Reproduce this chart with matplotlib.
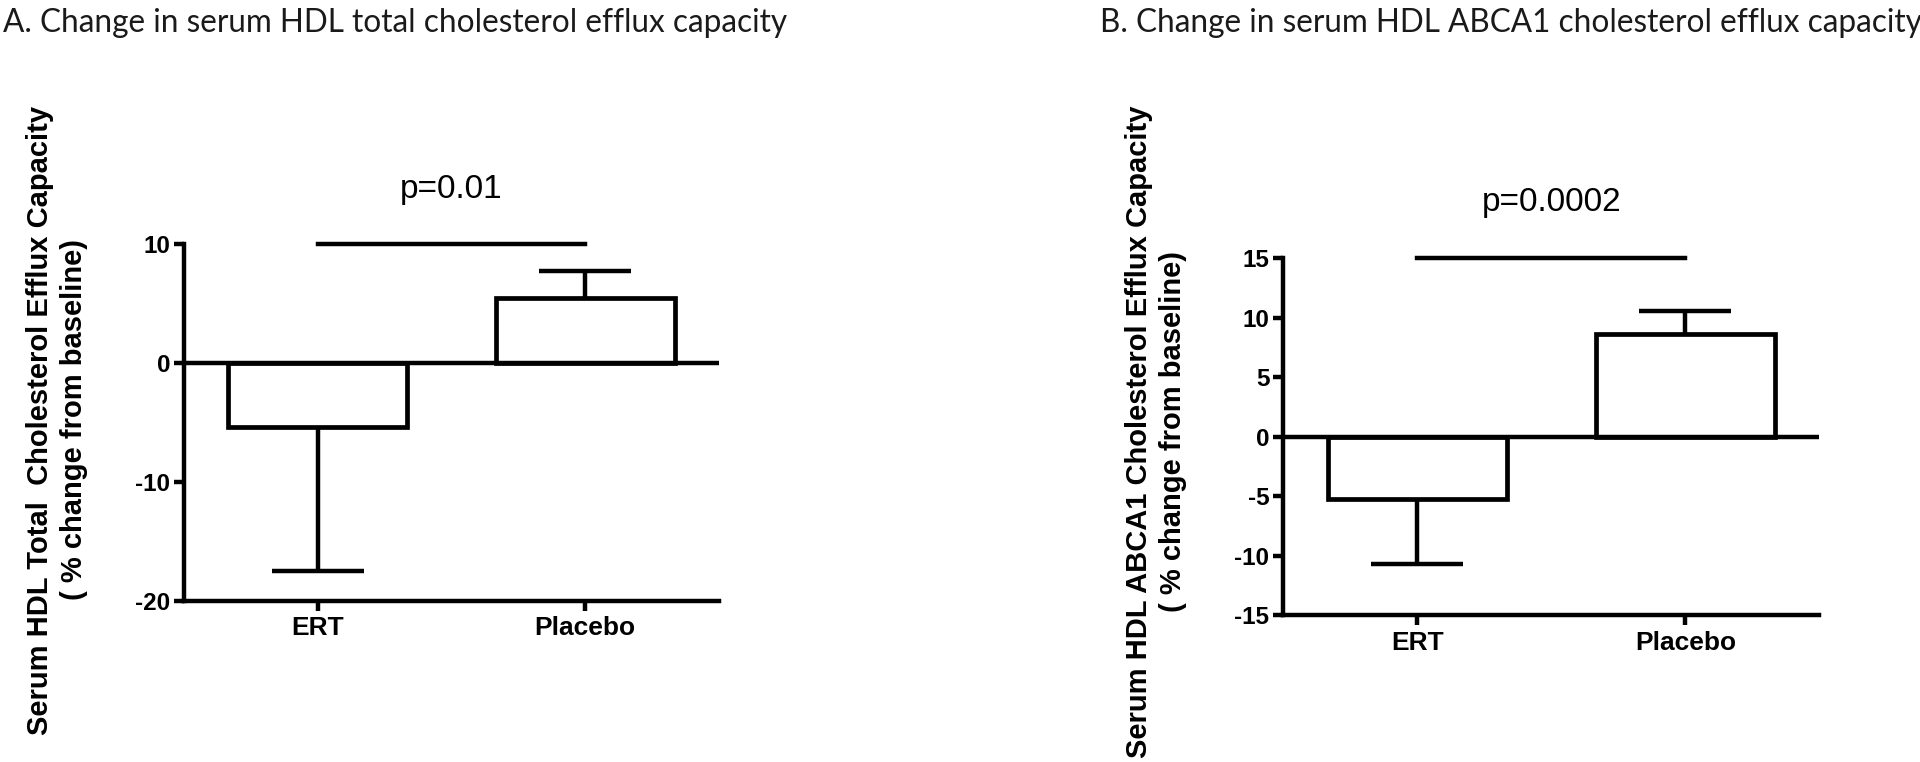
import numpy as np
import matplotlib
matplotlib.use("Agg")
import matplotlib.pyplot as plt

# data
groups = ["ERT", "Placebo"]

total_means = [-5.4, 5.45]
total_err = [12.1, 2.3]        # one sided, away from zero
total_ticks = [-20, -10, 0, 10]
total_p = "p=0.01"

abca1_means = [-5.25, 8.65]
abca1_err = [5.45, 1.9]
abca1_ticks = [-15, -10, -5, 0, 5, 10, 15]
abca1_p = "p=0.0002"

titles = ["A. Change in serum HDL total cholesterol efflux capacity",
          "B. Change in serum HDL ABCA1 cholesterol efflux capacity"]
ylabels = ["Serum HDL Total  Cholesterol Efflux Capacity\n( % change from baseline)",
           "Serum HDL ABCA1 Cholesterol Efflux Capacity\n( % change from baseline)"]

bold_font = ["Liberation Sans", "DejaVu Sans"]
title_font = ["Lato", "DejaVu Sans"]

fig = plt.figure(figsize=(19.2, 7.62), dpi=100)
fig.patch.set_facecolor("white")

LW = 3.2


def draw_panel(ax, means, errs, ticks, ptext):
    x = np.arange(len(means))
    ax.bar(x, means, width=0.67, color="white", edgecolor="black",
           linewidth=3.4, zorder=3)
    for xi, m, e in zip(x, means, errs):
        end = m - e if m < 0 else m + e
        ax.plot([xi, xi], [m, end], color="black", lw=LW, zorder=2,
                solid_capstyle="butt")
        ax.plot([xi - 0.172, xi + 0.172], [end, end], color="black", lw=LW,
                zorder=2, solid_capstyle="butt")
    ax.axhline(0, color="black", lw=LW, zorder=4)

    top = ticks[-1]
    ax.plot([0, 1], [top, top], color="black", lw=LW, clip_on=False)
    span = ticks[-1] - ticks[0]
    ax.text(0.5, top + span * 0.155, ptext, ha="center", va="center",
            fontsize=24, family=bold_font)

    ax.set_xlim(-0.5, 1.5)
    ax.set_ylim(ticks[0], ticks[-1])
    ax.set_yticks(ticks)
    ax.set_yticklabels([str(t) for t in ticks], fontsize=17.5,
                       fontweight="bold", family=bold_font)
    ax.set_xticks(x)
    ax.set_xticklabels(groups, fontsize=19, fontweight="bold",
                       family=bold_font)
    ax.tick_params(axis="both", width=LW, length=7, pad=3)
    ax.tick_params(axis="x", pad=4)
    for side in ["top", "right"]:
        ax.spines[side].set_visible(False)
    for side in ["left", "bottom"]:
        ax.spines[side].set_linewidth(LW)


ax1 = fig.add_axes([0.0958, 0.2113, 0.2786, 0.4681])
draw_panel(ax1, total_means, total_err, total_ticks, total_p)

ax2 = fig.add_axes([0.6684, 0.1923, 0.2792, 0.4688])
draw_panel(ax2, abca1_means, abca1_err, abca1_ticks, abca1_p)

# panel titles
fig.text(3 / 1920, 1 - 23 / 762, titles[0], ha="left", va="center",
         fontsize=22.7, family=title_font, color="#1a1a1a")
fig.text(1100 / 1920, 1 - 23 / 762, titles[1], ha="left", va="center",
         fontsize=22.7, family=title_font, color="#1a1a1a")

# y labels
fig.text(57 / 1920, 1 - 420 / 762, ylabels[0], rotation=90, ha="center",
         va="center", multialignment="center", fontsize=21,
         fontweight="bold", family=bold_font, linespacing=1.3)
fig.text(1156 / 1920, 1 - 432 / 762, ylabels[1], rotation=90, ha="center",
         va="center", multialignment="center", fontsize=21,
         fontweight="bold", family=bold_font, linespacing=1.3)

fig.savefig("out.png", dpi=100, facecolor="white")
